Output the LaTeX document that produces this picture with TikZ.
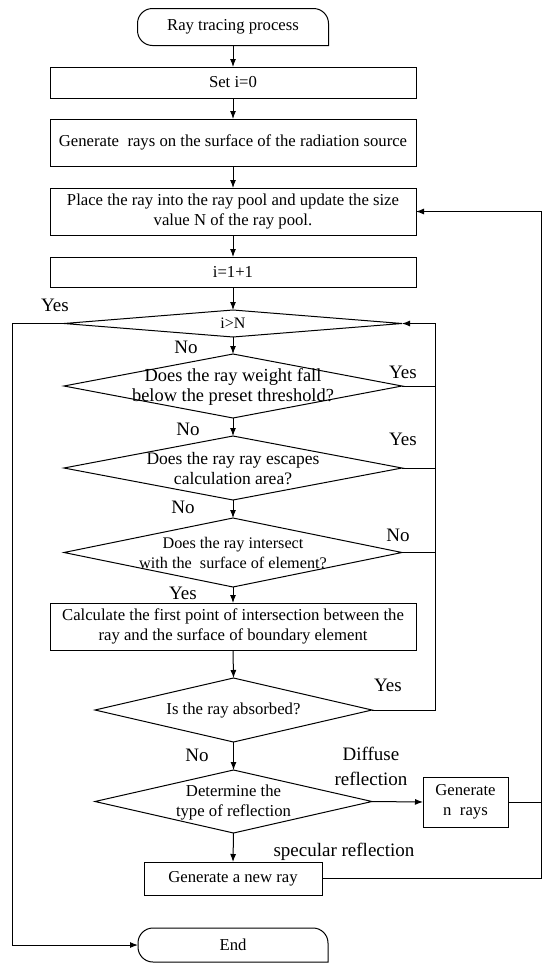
\documentclass[tikz,border=0pt]{standalone}
\usepackage{fontspec}
\setmainfont{Liberation Serif}
\usetikzlibrary{arrows.meta,calc,shapes.geometric}
\tikzset{
  base/.style={inner sep=0pt, outer sep=0pt},
  ln/.style={line width=1pt},
  arr/.style={line width=1pt, -{Latex[length=8pt,width=6pt]}},
  box/.style={base, draw, line width=1pt, minimum width=366pt, align=center, font=\fontsize{16.7}{20}\selectfont},
  term/.style={base, minimum width=191pt, minimum height=37pt, font=\fontsize{16.7}{20}\selectfont},
  dia/.style={base, draw, line width=1pt, shape=diamond},
  dtext/.style={base, align=center, font=\fontsize{16.7}{20}\selectfont},
  lab/.style={base, align=center, font=\fontsize{19}{25}\selectfont}
}
\newcommand\TermShape[1]{%
  \draw[ln] ($(#1.north west)+(15,0)$) -- ($(#1.north east)+(-15,0)$)
    arc[start angle=270,end angle=360,radius=15] -- (#1.south east)
    -- ($(#1.south west)+(15,0)$)
    arc[start angle=90,end angle=180,radius=15] -- ($(#1.north west)+(0,15)$)
    arc[start angle=180,end angle=270,radius=15] -- cycle;}
\begin{document}
\begin{tikzpicture}[x=1pt,y=-1pt]
\useasboundingbox (0,0) rectangle (550,970);
% terminals
\node[term] (start) at (233,27) {Ray tracing process};
\TermShape{start}
\node[term, minimum width=190pt, minimum height=34pt] (end) at (233,945) {End};
\TermShape{end}
% boxes
\node[box, minimum height=31pt] (b1) at (233,82.5) {Set i=0};
\node[box, minimum height=47pt] (b2) at (233,142.5) {Generate\ \ rays on the surface of the radiation source};
\node[box, minimum height=47pt] (b3) at (233,211.5) {Place the ray into the ray pool and update the size\\value N of the ray pool.};
\node[box, minimum height=30pt] (b4) at (233,272) {i=1+1};
% diamonds
\node[dia, minimum width=338pt, minimum height=27pt] (d1) at (233,323.5) {};
\node[dtext, font=\fontsize{16}{20}\selectfont] (d1t) at (233,323.5) {i>N};
\node[dia, minimum width=338pt, minimum height=64pt] (d2) at (233,386) {};
\node[dtext, font=\fontsize{18.4}{20}\selectfont] (d2t) at (233,387) {Does the ray weight fall\\below the preset threshold?};
\node[dia, minimum width=338pt, minimum height=64pt] (d3) at (233,468) {};
\node[dtext, font=\fontsize{17.5}{20.5}\selectfont] (d3t) at (233,468.5) {Does the ray ray escapes\\calculation area?};
\node[dia, minimum width=338pt, minimum height=69pt] (d4) at (233,552.5) {};
\node[dtext, font=\fontsize{16.2}{20}\selectfont] (d4t) at (233,552.5) {Does the ray intersect\\with the\ \ surface of element?};
\node[box, minimum height=47pt] (b5) at (233,626.5) {Calculate the first point of intersection between the\\ray and the surface of boundary element};
\node[dia, minimum width=277pt, minimum height=64pt] (d5) at (233.5,710) {};
\node[dtext] (d5t) at (233.5,710) {Is the ray absorbed?};
\node[dia, minimum width=277pt, minimum height=63pt] (d6) at (233.5,801.5) {};
\node[dtext] (d6t) at (233.5,802.5) {Determine the\\type of reflection};
\node[box, minimum width=85pt, minimum height=50pt] (nrays) at (465.5,802) {Generate\\n\ \ rays};
\node[box, minimum width=178pt, minimum height=33pt] (newray) at (233,878.5) {Generate a new ray};
% helper coordinates
\coordinate (L) at (12,323.5);
\coordinate (R) at (435,323.5);
\coordinate (RR) at (541,211.5);
% main flow
\draw[arr] (start.south) -- (b1.north);
\draw[arr] (b1.south) -- (b2.north);
\draw[arr] (b2.south) -- (b3.north);
\draw[arr] (b3.south) -- (b4.north);
\draw[arr] (b4.south) -- (d1.north);
\draw[arr] (d1.south) -- (d2.north);
\draw[arr] (d2.south) -- (d3.north);
\draw[arr] (d3.south) -- (d4.north);
\draw[arr] (d4.south) -- (b5.north);
\draw[arr] (b5.south) -- (d5.north);
\draw[arr] (d5.south) -- (d6.north);
\draw[arr] (d6.south) -- (newray.north);
\draw[arr] (d6.east) -- (nrays.west);
% loops
\draw[arr] (d1.west) -- (L) |- (end.west);
\draw[arr] (d5.east) -| (R) -- (d1.east);
\draw[ln] (d2.east) -- (d2.east -| R);
\draw[ln] (d3.east) -- (d3.east -| R);
\draw[ln] (d4.east) -- (d4.east -| R);
\draw[arr] (newray.east) -| (RR) -- (b3.east);
\draw[ln] (nrays.east) -- (nrays.east -| RR);
% labels
\node[lab] (l1) at (55,305) {Yes};
\node[lab] (l2) at (186,347) {No};
\node[lab] (l3) at (403,372) {Yes};
\node[lab] (l4) at (188,429) {No};
\node[lab] (l5) at (403,439) {Yes};
\node[lab] (l6) at (183,507) {No};
\node[lab] (l7) at (398,535) {No};
\node[lab] (l8) at (183,593) {Yes};
\node[lab] (l9) at (388,685) {Yes};
\node[lab] (l10) at (197,755) {No};
\node[lab] (l11) at (371,766) {Diffuse\\reflection};
\node[lab] (l12) at (344,852) {specular reflection};
\end{tikzpicture}
\end{document}
